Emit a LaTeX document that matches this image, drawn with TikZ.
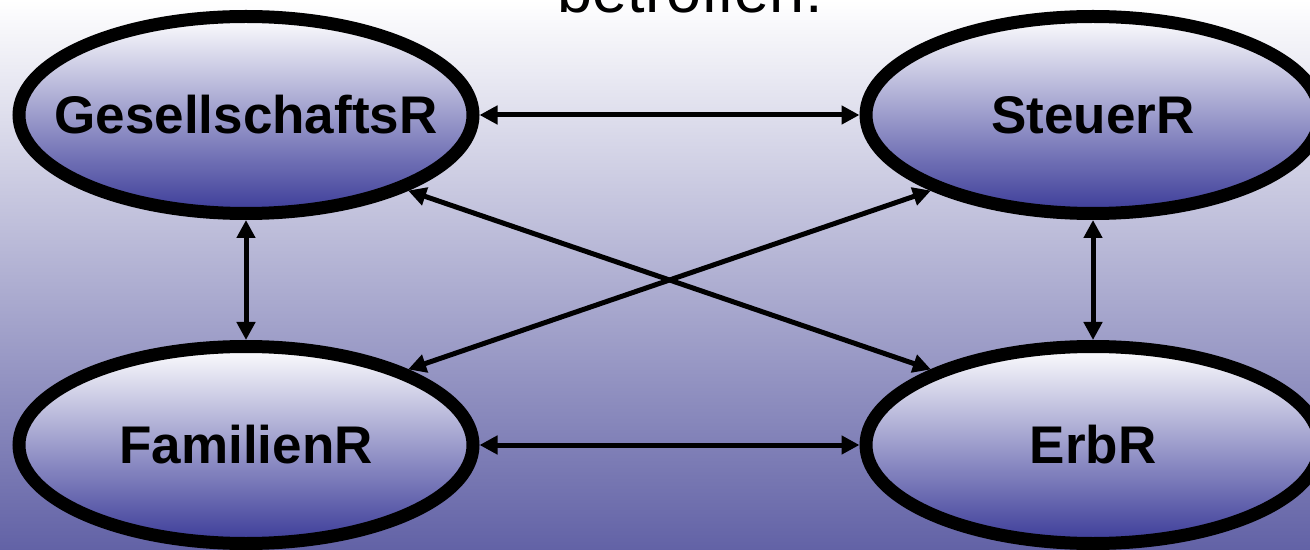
\documentclass[tikz,border=0pt]{standalone}
\usepackage{fontspec}
\setmainfont{Liberation Sans}
\usetikzlibrary{arrows.meta,shapes.geometric}
\definecolor{bgblue}{RGB}{98,98,166}
\definecolor{ovalblue}{RGB}{58,58,152}

\begin{document}
\begin{tikzpicture}[x=0.5pt,y=-0.5pt,
  oval/.style={ellipse,draw=black,line width=6.5pt,top color=white,middle color=ovalblue!30!white,bottom color=ovalblue,
    minimum width=227pt,minimum height=98.5pt,inner sep=0pt},
  lbl/.style={font=\fontsize{26.5}{30}\selectfont\bfseries},
  link/.style={line width=2.5pt,{Triangle[length=9pt,width=9pt]}-{Triangle[length=9pt,width=9pt]}}]
        \useasboundingbox (0,0) rectangle (1310,550);
        \shade[top color=white,middle color=bgblue!40!white,bottom color=bgblue] (0,0) rectangle (1310,550);
        \node[anchor=base,font=\fontsize{31.5}{36}\selectfont] (title) at (690,13) {betroffen:};
        \node[oval,label={[lbl]center:GesellschaftsR}] (ges) at (246,115) {};
        \node[oval,label={[lbl]center:SteuerR}] (steu) at (1093,115) {};
        \node[oval,label={[lbl]center:FamilienR}] (fam) at (246,445) {};
        \node[oval,label={[lbl]center:ErbR}] (erb) at (1093,445) {};
        \draw[link] (ges) -- (steu);
        \draw[link] (ges) -- (fam);
        \draw[link] (steu) -- (erb);
        \draw[link] (fam) -- (erb);
        \draw[link] (ges.-25) -- (erb.155);
        \draw[link] (steu.-155) -- (fam.25);
\end{tikzpicture}
\end{document}
